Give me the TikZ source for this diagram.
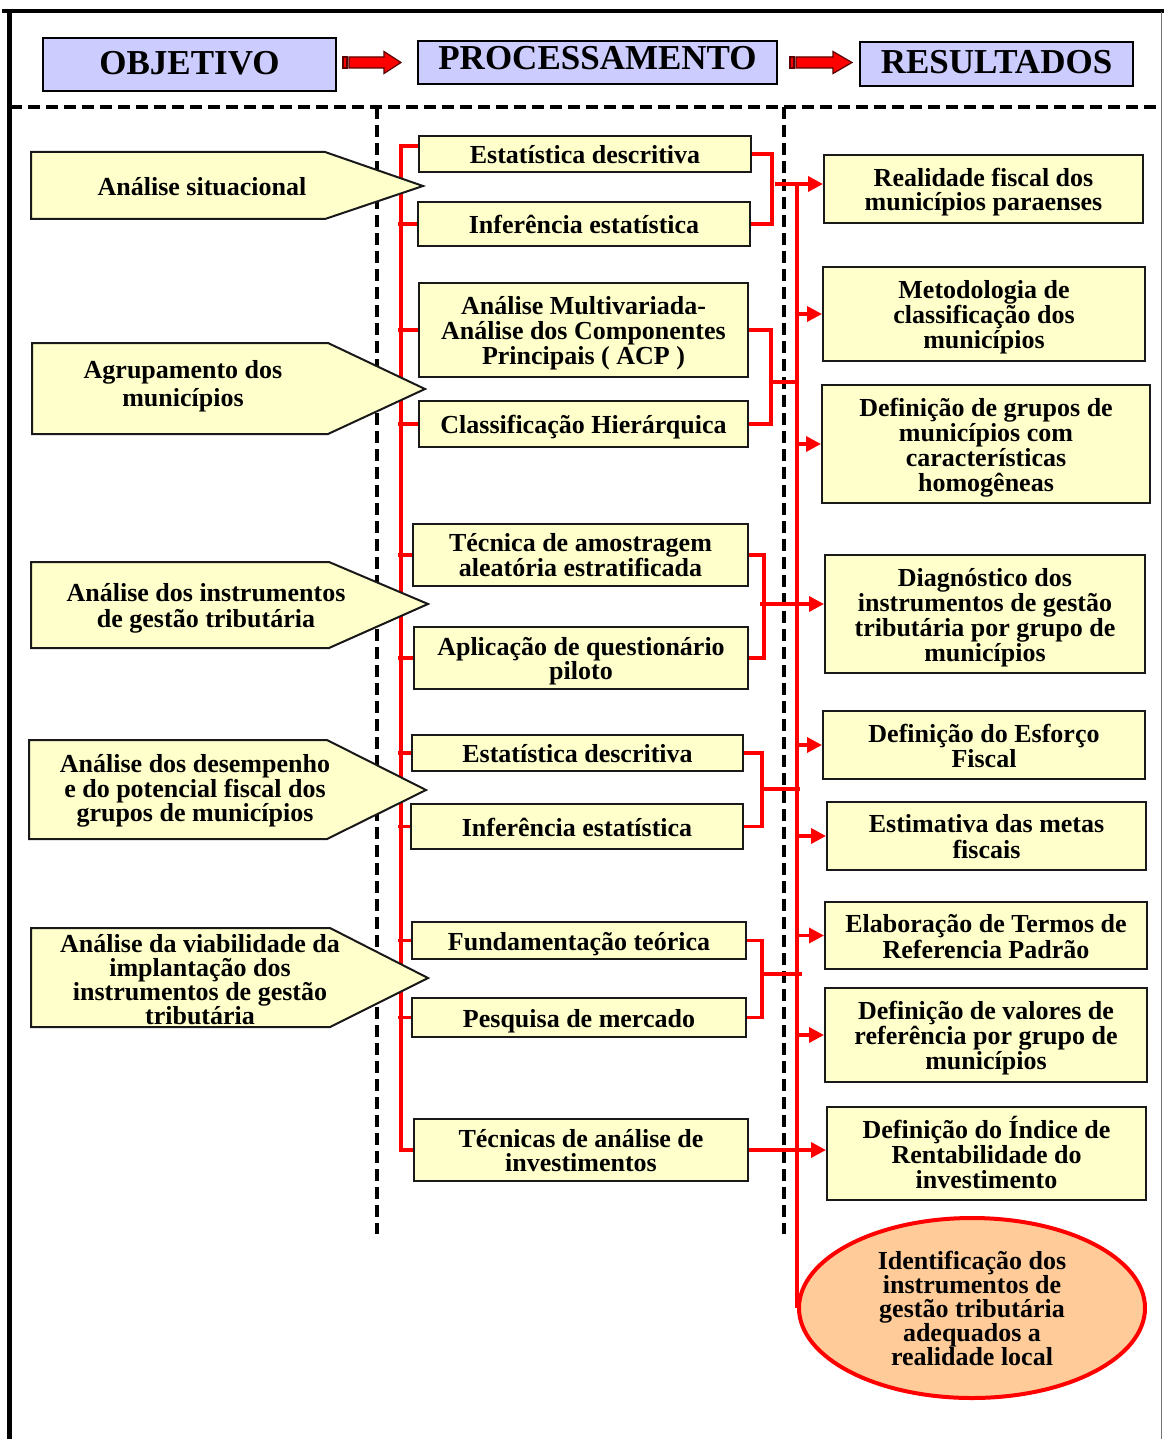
\documentclass[tikz,border=0pt]{standalone}
\usepackage{fontspec}
\setmainfont{Liberation Serif}
\usetikzlibrary{arrows.meta,shapes.geometric}
\definecolor{boxyellow}{RGB}{255,255,204}
\definecolor{hdrblue}{RGB}{204,204,255}
\definecolor{peach}{RGB}{255,204,153}
\definecolor{myred}{RGB}{255,0,0}
\definecolor{darkred}{RGB}{90,0,0}
\pgfdeclarelayer{back}
\pgfdeclarelayer{bg}
\pgfsetlayers{back,bg,main}
\begin{document}
\begin{tikzpicture}[x=1pt,y=-1pt,
  txt/.style={font=\fontsize{26}{#1}\selectfont\bfseries},
  txt/.default=25,
  tht/.style={text height=#1pt, text depth=0pt},
  tht/.default=19.2,
  ybox/.style={draw=black!90, line width=2pt, fill=boxyellow, inner sep=0pt, align=center, txt, tht},
  hdr/.style={draw=black, line width=2pt, fill=hdrblue, inner sep=0pt, font=\fontsize{35}{35}\selectfont\bfseries},
  penta/.style={draw=black!90, line width=2pt, fill=boxyellow, line join=miter},
  ptxt/.style={inner sep=0pt, align=center, txt=#1},
  ptxt/.default=25,
  rline/.style={draw=myred, line width=3.5pt},
  rarrow/.style={rline, -{Triangle[length=15pt,width=15pt]}},
  dashline/.style={draw=black, line width=4pt, dash pattern=on 12pt off 6pt},
  blockarrow/.style={fill=myred, draw=darkred, line width=1.2pt, line join=miter}
]
\useasboundingbox (0,0) rectangle (1164,1439);
\begin{pgfonlayer}{back}
\fill[white] (0,0) rectangle (1164,1439);
\end{pgfonlayer}

% outer frame
\draw[line width=4pt] (2,11.5) -- (1164,11.5);
\draw[line width=5pt] (9.5,9.5) -- (9.5,1439);
\draw[line width=1.5pt, black!55] (1161.5,12) -- (1161.5,1439);

% headers
\node[hdr, minimum width=293pt, minimum height=53pt] (h1) at (189.5,64.5) {\raisebox{1pt}[\height][\depth]{OBJETIVO}};
\node[hdr, minimum width=359pt, minimum height=43pt] (h2) at (597.5,62.5) {\raisebox{4pt}[\height][\depth]{PROCESSAMENTO}};
\node[hdr, minimum width=273pt, minimum height=44pt] (h3) at (996.5,64) {\raisebox{2pt}[\height][\depth]{RESULTADOS}};

% header block arrows
\draw[blockarrow] (343,57) rectangle (347,68);
\draw[blockarrow] (349,57) -- (384,57) -- (384,51.5) -- (401,62.5) -- (384,73.5) -- (384,68) -- (349,68) -- cycle;
\draw[blockarrow] (790,57) rectangle (794,68);
\draw[blockarrow] (796,57) -- (833,57) -- (833,51.5) -- (852,62.5) -- (833,73.5) -- (833,68) -- (796,68) -- cycle;

% processing boxes
\node[ybox, minimum width=332pt, minimum height=36pt] (b1) at (585,154) {Estatística descritiva};
\node[ybox, minimum width=332pt, minimum height=44pt] (b2) at (584,224) {Inferência estatística};
\node[ybox, tht=69.2, minimum width=329pt, minimum height=94pt] (b3) at (583.5,330) {Análise Multivariada-\\Análise dos Componentes\\Principais ( ACP )};
\node[ybox, minimum width=329pt, minimum height=46pt] (b4) at (583.5,424) {Classificação Hierárquica};
\node[ybox, txt=23, tht=42.2, minimum width=335pt, minimum height=62pt] (b5) at (580.5,555) {Técnica de amostragem\\aleatória estratificada};
\node[ybox, txt=24, tht=43.2, minimum width=334pt, minimum height=62pt] (b6) at (581,658) {Aplicação de questionário\\piloto};
\node[ybox, minimum width=331pt, minimum height=36pt] (b7) at (577.5,753) {Estatística descritiva};
\node[ybox, minimum width=332pt, minimum height=45pt] (b8) at (577,826.5) {Inferência estatística};
\node[ybox, minimum width=334pt, minimum height=37pt] (b9) at (579,940.5) {Fundamentação teórica};
\node[ybox, minimum width=334pt, minimum height=39pt] (b10) at (579,1017.5) {Pesquisa de mercado};
\node[ybox, txt=24, tht=43.2, minimum width=334pt, minimum height=62pt] (b11) at (581,1150) {Técnicas de análise de\\investimentos};

% result boxes
\node[ybox, txt=24, tht=43.2, minimum width=319pt, minimum height=68pt] (r1) at (983.5,189) {Realidade fiscal dos\\municípios paraenses};
\node[ybox, tht=69.2, minimum width=322pt, minimum height=94pt] (r2) at (984,314) {Metodologia de\\classificação dos\\municípios};
\node[ybox, tht=94.2, minimum width=328pt, minimum height=118pt] (r3) at (986,444) {Definição de grupos de\\municípios com\\características\\homogêneas};
\node[ybox, tht=94.2, minimum width=320pt, minimum height=118pt] (r4) at (985,614) {Diagnóstico dos\\instrumentos de gestão\\tributária por grupo de\\municípios};
\node[ybox, tht=44.2, minimum width=322pt, minimum height=68pt] (r5) at (984,745) {Definição do Esforço\\Fiscal};
\node[ybox, txt=26, tht=45.2, minimum width=319pt, minimum height=68pt] (r6) at (986.5,836) {Estimativa das metas\\fiscais};
\node[ybox, txt=26, tht=45.2, minimum width=322pt, minimum height=67pt] (r7) at (986,935.5) {Elaboração de Termos de\\Referencia Padrão};
\node[ybox, tht=69.2, minimum width=322pt, minimum height=94pt] (r8) at (986,1035) {Definição de valores de\\referência por grupo de\\municípios};
\node[ybox, tht=69.2, minimum width=319pt, minimum height=93pt] (r9) at (986.5,1153.5) {Definição do Índice de\\Rentabilidade do\\investimento};

% final ellipse
\node[ellipse, draw=myred, line width=4pt, fill=peach, inner sep=0pt, minimum width=346pt, minimum height=180pt, align=center, txt=24, tht=115.2] (ell) at (972,1308) {Identificação dos\\instrumentos de\\gestão tributária\\adequados a\\realidade local};

% bracket junctions
\coordinate (k1) at (772,184);
\coordinate (k2) at (771,382);
\coordinate (k3) at (764,604);
\coordinate (k4) at (762,789);
\coordinate (k5) at (762,974);
\coordinate (rbus) at (797,184);
\coordinate (lbus) at (401,146);
\coordinate (stub) at (398,146);

\begin{pgfonlayer}{bg}
  % dashed separators
  \draw[dashline] (10,107) -- (1160,107);
  \draw[dashline] (377,107) -- (377,1234);
  \draw[dashline] (784,107) -- (784,1234);
  % left red bus
  \draw[rline] ([yshift=8pt]b1.west) -- (lbus) |- (b11.west);
  \foreach \b in {b2,b3,b4,b5,b6,b7,b8,b9,b10}
    \draw[rline] (\b.west) -- (\b.west -| stub);
  % brackets
  \draw[rline] (b1.east) -| (k1) |- (b2.east);
  \draw[rline] (b3.east) -| (k2) |- (b4.east);
  \draw[rline] (b5.east) -| (k3) |- (b6.east);
  \draw[rline] (b7.east) -| (k4) |- (b8.east);
  \draw[rline] (b9.east) -| (k5) |- (b10.east);
  % right red bus
  \draw[rline] (rbus) -- (rbus |- ell.west);
  % joins into right bus
  \draw[rline] (k2) -- (k2 -| rbus);
  \draw[rline] (k4) -- ([xshift=3pt]k4 -| rbus);
  \draw[rline] (k5) -- ([xshift=5pt]k5 -| rbus);
  % arrows into results
  \draw[rarrow] ([xshift=3pt]k1) -- (k1 -| r1.west);
  \draw[rarrow] (r2.west -| rbus) -- (r2.west);
  \draw[rarrow] (r3.west -| rbus) -- (r3.west);
  \draw[rarrow] ([xshift=-4pt]k3) -- (k3 -| r4.west);
  \draw[rarrow] (r5.west -| rbus) -- (r5.west);
  \draw[rarrow] (r6.west -| rbus) -- (r6.west);
  \draw[rarrow] (r7.west -| rbus) -- (r7.west);
  \draw[rarrow] (r8.west -| rbus) -- (r8.west);
  \draw[rarrow] (b11.east) -- (b11.east -| r9.west);
\end{pgfonlayer}

% objective pentagons (drawn over the separators)
\draw[penta] (31,152) -- (325,152) -- (423,186) -- (325,219) -- (31,219) -- cycle;
\draw[penta] (32,343) -- (328,343) -- (425,389) -- (328,434) -- (32,434) -- cycle;
\draw[penta] (31,562) -- (329,562) -- (428,604) -- (329,648) -- (31,648) -- cycle;
\draw[penta] (29,740) -- (327,740) -- (426,790) -- (327,839) -- (29,839) -- cycle;
\draw[penta] (31,928) -- (330,928) -- (428,978) -- (330,1027) -- (31,1027) -- cycle;

\node[ptxt, tht] (p1) at (202,186) {Análise situacional};
\node[ptxt=28, tht=47.2] (p2) at (183,383) {Agrupamento dos\\municípios};
\node[ptxt=26, tht=45.2] (p3) at (206,605) {Análise dos instrumentos\\de gestão tributária};
\node[ptxt=23, tht=65.2] (p4) at (195,789) {Análise dos desempenho\\e do potencial fiscal dos\\grupos de municípios};
\node[ptxt=24, tht=91.2] (p5) at (200,979) {Análise da viabilidade da\\implantação dos\\instrumentos de gestão\\tributária};
\end{tikzpicture}
\end{document}
